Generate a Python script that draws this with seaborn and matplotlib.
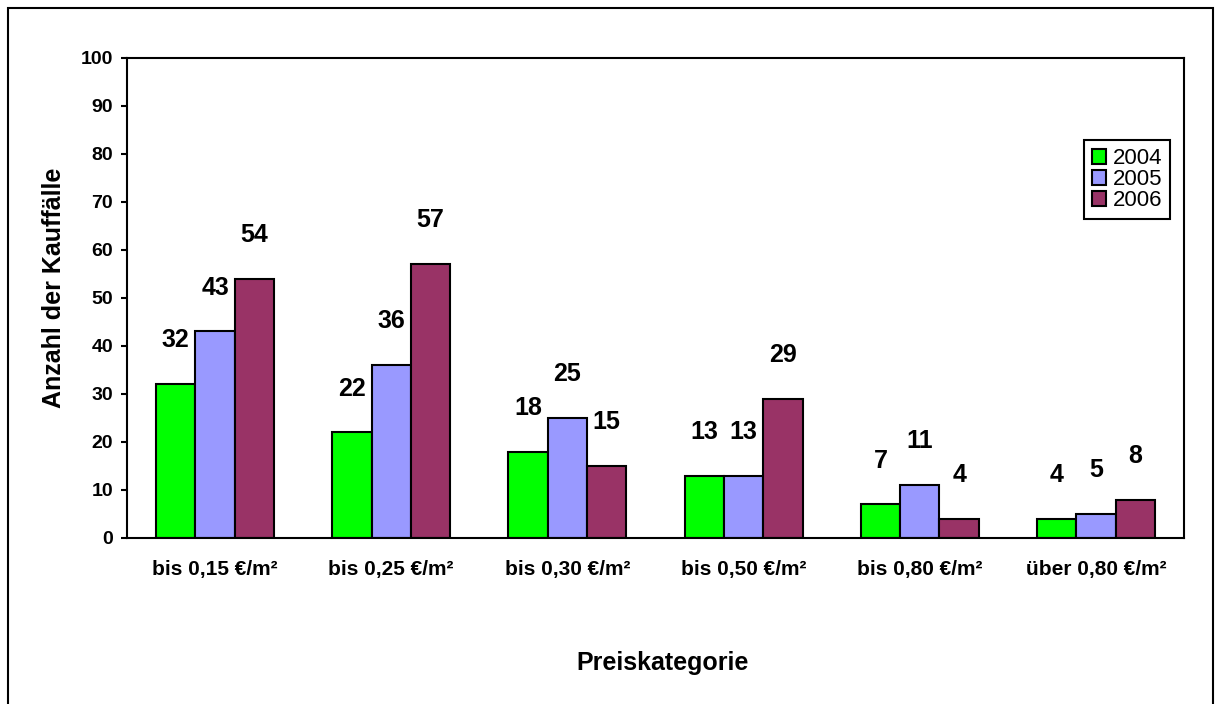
import matplotlib
matplotlib.use('Agg')
import matplotlib.pyplot as plt
import seaborn as sns
import pandas as pd
from matplotlib.patches import Rectangle

categories = ['bis 0,15 €/m²', 'bis 0,25 €/m²', 'bis 0,30 €/m²',
              'bis 0,50 €/m²', 'bis 0,80 €/m²', 'über 0,80 €/m²']
years = ['2004', '2005', '2006']
v2004 = [32, 22, 18, 13, 7, 4]
v2005 = [43, 36, 25, 13, 11, 5]
v2006 = [54, 57, 15, 29, 4, 8]
colors = ['#00FF00', '#9999FF', '#993366']
yticks = list(range(0, 101, 10))

sns.set_theme(style='white')
plt.rcParams['font.family'] = ['Liberation Sans', 'DejaVu Sans']
plt.rcParams['text.color'] = 'black'
plt.rcParams['axes.labelcolor'] = 'black'
plt.rcParams['xtick.color'] = 'black'
plt.rcParams['ytick.color'] = 'black'

W, H = 1221, 704
fig = plt.figure(figsize=(W / 100, H / 100), dpi=100)
ax = fig.add_axes([127 / W, (H - 538) / H, (1184 - 127) / W, (538 - 57.5) / H])

df = pd.DataFrame({
    'Preiskategorie': categories * 3,
    'Anzahl': v2004 + v2005 + v2006,
    'Jahr': [y for y in years for _ in categories],
})
sns.barplot(data=df, x='Preiskategorie', y='Anzahl', hue='Jahr',
            order=categories, hue_order=years, palette=colors,
            width=0.67, saturation=1, edgecolor='black', linewidth=1.5,
            errorbar=None, ax=ax)

for container, vals in zip(ax.containers, [v2004, v2005, v2006]):
    for bar, v in zip(container, vals):
        ax.annotate(str(v), (bar.get_x() + bar.get_width() / 2, bar.get_height()),
                    xytext=(0, 31.5), textcoords='offset points',
                    ha='center', va='center', fontsize=18, fontweight='bold',
                    color='black')

ax.set_xlim(-0.5, 5.5)
ax.set_ylim(0, 100)
ax.set_yticks(yticks)
ax.set_yticklabels([str(t) for t in yticks], fontsize=14, fontweight='bold', color='black')
ax.set_xticks(range(len(categories)))
ax.set_xticklabels(categories, fontsize=15, fontweight='bold', color='black')
ax.set_xticks([i - 0.5 for i in range(len(categories) + 1)], minor=True)
ax.tick_params(axis='x', which='major', length=0, pad=16)
ax.tick_params(axis='x', which='minor', length=4.5, width=1.5, direction='out', color='black')
ax.tick_params(axis='y', which='major', length=4.5, width=1.5, direction='out', color='black', pad=5.5, left=True)
for s in ax.spines.values():
    s.set_visible(True)
    s.set_color('black')
    s.set_linewidth(1.5)
ax.grid(False)

ax.set_ylabel('Anzahl der Kauffälle', fontsize=18, fontweight='bold', va='center', color='black')
ax.yaxis.set_label_coords((54 - 127) / 1057, (538 - 287.5) / 481)
ax.set_xlabel('Preiskategorie', fontsize=18, fontweight='bold', va='center', color='black')
ax.xaxis.set_label_coords((663 - 127) / 1057, (538 - 663) / 481)

leg = ax.legend(loc='upper right', bbox_to_anchor=((1170 - 127) / 1057, (538 - 140) / 481),
                frameon=True, fancybox=False, edgecolor='black', fontsize=16,
                handlelength=0.65, handleheight=0.65, handletextpad=0.3,
                labelspacing=0.0, borderpad=0.35, borderaxespad=0, title=None,
                framealpha=1)
leg.get_frame().set_linewidth(1.5)
for t in leg.get_texts():
    t.set_color('black')

fig.patches.append(Rectangle((8 / W, -0.01), (1213 - 8) / W, (H - 8) / H + 0.01,
                             transform=fig.transFigure, fill=False,
                             edgecolor='black', linewidth=1.5))

fig.savefig('out.png', dpi=100)
